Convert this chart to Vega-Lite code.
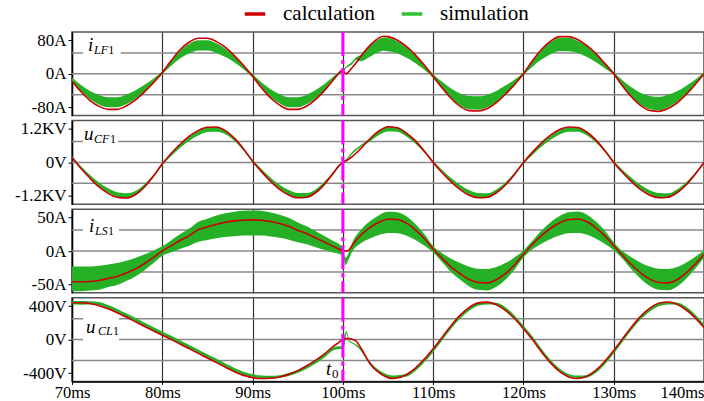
{
  "$schema": "https://vega.github.io/schema/vega-lite/v6.json",
  "padding": {"left": 13, "top": 2, "right": 0, "bottom": 0},
  "background": "white",
  "bounds": "flush",
  "spacing": 4.6,
  "config": {
    "font": "Liberation Serif, Times New Roman, serif",
    "view": {"stroke": "#555555", "strokeWidth": 1.5},
    "style": {"guide-label": {"font": "Liberation Serif, Times New Roman, serif", "fill": "black"}},
    "axis": {"labelFont": "Liberation Serif, Times New Roman, serif", "labelFontSize": 17, "labelColor": "black", "domainColor": "black", "domainWidth": 1.5, "tickColor": "black", "tickSize": 4, "labelPadding": 2, "gridColor": "#333333", "gridWidth": 1.2, "gridOpacity": 1, "title": null},
    "legend": {"labelFont": "Liberation Serif, Times New Roman, serif"},
    "text": {"font": "Liberation Serif, Times New Roman, serif", "color": "black"}
  },
  "datasets": {
    "one": [{"k": 1}],
    "lf": [
      {"t":70,"c":-18,"lo":-19,"hi":-9},{"t":71,"c":-43,"lo":-42,"hi":-27},{"t":72,"c":-64,"lo":-61,"hi":-41},{"t":73,"c":-78,"lo":-74,"hi":-51},{"t":74,"c":-85,"lo":-80,"hi":-56},{"t":75,"c":-85,"lo":-80,"hi":-56},{"t":76,"c":-77,"lo":-73,"hi":-50},{"t":77,"c":-63,"lo":-60,"hi":-40},{"t":78,"c":-44,"lo":-43,"hi":-27},{"t":79,"c":-22,"lo":-23,"hi":-12},
      {"t":80,"c":3,"lo":-1,"hi":6},{"t":81,"c":32,"lo":19,"hi":32},{"t":82,"c":58,"lo":37,"hi":56},{"t":83,"c":76,"lo":49,"hi":72},{"t":84,"c":85,"lo":56,"hi":80},{"t":85,"c":85,"lo":56,"hi":80},{"t":86,"c":77,"lo":50,"hi":73},{"t":87,"c":63,"lo":40,"hi":60},{"t":88,"c":43,"lo":27,"hi":42},{"t":89,"c":20,"lo":11,"hi":21},
      {"t":90,"c":-6,"lo":-9,"hi":-1},{"t":91,"c":-34,"lo":-34,"hi":-21},{"t":92,"c":-58,"lo":-56,"hi":-37},{"t":93,"c":-75,"lo":-71,"hi":-49},{"t":94,"c":-85,"lo":-80,"hi":-56},{"t":95,"c":-85,"lo":-80,"hi":-56},{"t":96,"c":-77,"lo":-73,"hi":-50},{"t":97,"c":-61,"lo":-59,"hi":-39},{"t":98,"c":-39,"lo":-39,"hi":-24},{"t":99,"c":-13,"lo":-15,"hi":-6},{"t":99.5,"c":0,"lo":-3,"hi":3},
      {"t":100,"c":10,"lo":4,"hi":9},{"t":100.3,"c":0,"lo":12,"hi":16},{"t":101,"c":14,"lo":22,"hi":28},{"t":101.5,"c":27,"lo":33,"hi":40},{"t":102,"c":42,"lo":30,"hi":45},{"t":103,"c":68,"lo":41,"hi":67},{"t":104,"c":86,"lo":52,"hi":83},{"t":104.5,"c":90,"lo":55,"hi":87},{"t":105,"c":89,"lo":54,"hi":86},{"t":106,"c":81,"lo":49,"hi":78},{"t":107,"c":66,"lo":39,"hi":65},{"t":108,"c":46,"lo":26,"hi":46},{"t":109,"c":21,"lo":10,"hi":23},
      {"t":110,"c":-6,"lo":-10,"hi":-1},{"t":111,"c":-34,"lo":-35,"hi":-19},{"t":112,"c":-59,"lo":-58,"hi":-35},{"t":113,"c":-78,"lo":-76,"hi":-47},{"t":114,"c":-88,"lo":-85,"hi":-53},{"t":115,"c":-89,"lo":-86,"hi":-54},{"t":116,"c":-83,"lo":-80,"hi":-50},{"t":117,"c":-69,"lo":-68,"hi":-41},{"t":118,"c":-49,"lo":-49,"hi":-28},{"t":119,"c":-26,"lo":-28,"hi":-14},
      {"t":120,"c":0,"lo":-3,"hi":4},{"t":121,"c":31,"lo":17,"hi":33},{"t":122,"c":58,"lo":34,"hi":57},{"t":123,"c":78,"lo":47,"hi":76},{"t":124,"c":89,"lo":54,"hi":86},{"t":125,"c":89,"lo":54,"hi":86},{"t":126,"c":82,"lo":50,"hi":79},{"t":127,"c":68,"lo":41,"hi":67},{"t":128,"c":49,"lo":28,"hi":49},{"t":129,"c":25,"lo":13,"hi":27},
      {"t":130,"c":0,"lo":-3,"hi":4},{"t":131,"c":-30,"lo":-32,"hi":-16},{"t":132,"c":-56,"lo":-56,"hi":-33},{"t":133,"c":-76,"lo":-74,"hi":-46},{"t":134,"c":-88,"lo":-85,"hi":-53},{"t":135,"c":-90,"lo":-87,"hi":-55},{"t":136,"c":-83,"lo":-80,"hi":-50},{"t":137,"c":-70,"lo":-68,"hi":-42},{"t":138,"c":-50,"lo":-50,"hi":-29},{"t":139,"c":-26,"lo":-28,"hi":-14},{"t":140,"c":0,"lo":-3,"hi":4}
    ],
    "cf": [
      {"t":70,"c":0.18,"lo":0.16,"hi":0.23},{"t":71,"c":-0.22,"lo":-0.21,"hi":-0.14},{"t":72,"c":-0.57,"lo":-0.55,"hi":-0.45},{"t":73,"c":-0.88,"lo":-0.85,"hi":-0.72},{"t":74,"c":-1.11,"lo":-1.08,"hi":-0.93},{"t":75,"c":-1.25,"lo":-1.23,"hi":-1.07},{"t":76,"c":-1.28,"lo":-1.27,"hi":-1.11},{"t":77,"c":-1.16,"lo":-1.19,"hi":-1.03},{"t":78,"c":-0.89,"lo":-0.92,"hi":-0.79},{"t":79,"c":-0.5,"lo":-0.55,"hi":-0.45},
      {"t":80,"c":-0.05,"lo":-0.11,"hi":-0.04},{"t":81,"c":0.33,"lo":0.23,"hi":0.32},{"t":82,"c":0.66,"lo":0.53,"hi":0.64},{"t":83,"c":0.94,"lo":0.78,"hi":0.91},{"t":84,"c":1.15,"lo":0.97,"hi":1.13},{"t":85,"c":1.26,"lo":1.09,"hi":1.25},{"t":86,"c":1.27,"lo":1.1,"hi":1.26},{"t":87,"c":1.13,"lo":1.01,"hi":1.16},{"t":88,"c":0.86,"lo":0.77,"hi":0.89},{"t":89,"c":0.48,"lo":0.43,"hi":0.53},
      {"t":90,"c":0.04,"lo":0.04,"hi":0.1},{"t":91,"c":-0.34,"lo":-0.33,"hi":-0.24},{"t":92,"c":-0.68,"lo":-0.66,"hi":-0.55},{"t":93,"c":-0.97,"lo":-0.94,"hi":-0.8},{"t":94,"c":-1.17,"lo":-1.15,"hi":-0.99},{"t":95,"c":-1.27,"lo":-1.26,"hi":-1.1},{"t":96,"c":-1.25,"lo":-1.26,"hi":-1.1},{"t":97,"c":-1.08,"lo":-1.11,"hi":-0.96},{"t":98,"c":-0.77,"lo":-0.81,"hi":-0.68},{"t":99,"c":-0.36,"lo":-0.41,"hi":-0.32},{"t":99.5,"c":-0.14,"lo":-0.2,"hi":-0.12},
      {"t":100,"c":0,"lo":-0.04,"hi":0.04},{"t":100.5,"c":0.08,"lo":0.08,"hi":0.16},{"t":101,"c":0.2,"lo":0.28,"hi":0.36},{"t":102,"c":0.5,"lo":0.55,"hi":0.62},{"t":103,"c":0.85,"lo":0.75,"hi":0.86},{"t":104,"c":1.13,"lo":0.98,"hi":1.13},{"t":105,"c":1.28,"lo":1.11,"hi":1.27},{"t":106,"c":1.24,"lo":1.1,"hi":1.26},{"t":107,"c":1.06,"lo":0.94,"hi":1.09},{"t":108,"c":0.78,"lo":0.69,"hi":0.82},{"t":109,"c":0.41,"lo":0.36,"hi":0.46},
      {"t":110,"c":0,"lo":0,"hi":0.06},{"t":111,"c":-0.37,"lo":-0.36,"hi":-0.27},{"t":112,"c":-0.7,"lo":-0.68,"hi":-0.56},{"t":113,"c":-0.98,"lo":-0.95,"hi":-0.81},{"t":114,"c":-1.18,"lo":-1.15,"hi":-1.0},{"t":115,"c":-1.27,"lo":-1.26,"hi":-1.1},{"t":116,"c":-1.25,"lo":-1.27,"hi":-1.11},{"t":117,"c":-1.09,"lo":-1.12,"hi":-0.97},{"t":118,"c":-0.81,"lo":-0.85,"hi":-0.72},{"t":119,"c":-0.43,"lo":-0.48,"hi":-0.38},
      {"t":120,"c":0,"lo":-0.06,"hi":0},{"t":121,"c":0.37,"lo":0.27,"hi":0.36},{"t":122,"c":0.7,"lo":0.56,"hi":0.68},{"t":123,"c":0.98,"lo":0.81,"hi":0.95},{"t":124,"c":1.18,"lo":1.0,"hi":1.15},{"t":125,"c":1.27,"lo":1.1,"hi":1.26},{"t":126,"c":1.25,"lo":1.1,"hi":1.26},{"t":127,"c":1.09,"lo":0.97,"hi":1.12},{"t":128,"c":0.81,"lo":0.72,"hi":0.85},{"t":129,"c":0.43,"lo":0.38,"hi":0.48},
      {"t":130,"c":0,"lo":0,"hi":0.06},{"t":131,"c":-0.37,"lo":-0.36,"hi":-0.27},{"t":132,"c":-0.7,"lo":-0.68,"hi":-0.56},{"t":133,"c":-0.98,"lo":-0.95,"hi":-0.81},{"t":134,"c":-1.18,"lo":-1.15,"hi":-1.0},{"t":135,"c":-1.27,"lo":-1.26,"hi":-1.1},{"t":136,"c":-1.25,"lo":-1.27,"hi":-1.11},{"t":137,"c":-1.09,"lo":-1.12,"hi":-0.97},{"t":138,"c":-0.81,"lo":-0.85,"hi":-0.72},{"t":139,"c":-0.43,"lo":-0.48,"hi":-0.38},{"t":140,"c":0,"lo":-0.06,"hi":0}
    ],
    "ls": [
      {"t":70,"c":-46,"lo":-60,"hi":-23},{"t":71,"c":-46,"lo":-60,"hi":-23},{"t":72,"c":-45.5,"lo":-59,"hi":-23},{"t":73,"c":-44,"lo":-58,"hi":-22},{"t":74,"c":-41,"lo":-54,"hi":-20},{"t":75,"c":-38,"lo":-51,"hi":-18},{"t":76,"c":-33,"lo":-45,"hi":-14.5},{"t":77,"c":-27,"lo":-38,"hi":-10.6},{"t":78,"c":-19,"lo":-29,"hi":-5.4},{"t":79,"c":-10,"lo":-18.5,"hi":0.5},
      {"t":80,"c":0,"lo":-7,"hi":7},{"t":81,"c":8,"lo":-1.8,"hi":16.2},{"t":82,"c":16,"lo":3.4,"hi":25.4},{"t":83,"c":23,"lo":8,"hi":33.5},{"t":84,"c":32,"lo":13.8,"hi":43.8},{"t":85,"c":36,"lo":16.4,"hi":48.4},{"t":86,"c":40,"lo":19,"hi":53},{"t":87,"c":43,"lo":21,"hi":56.5},{"t":88,"c":45,"lo":22,"hi":58.8},{"t":89,"c":46,"lo":23,"hi":60},
      {"t":90,"c":46.5,"lo":23,"hi":60.5},{"t":91,"c":46,"lo":23,"hi":60},{"t":92,"c":44,"lo":21.6,"hi":57.6},{"t":93,"c":41,"lo":19.7,"hi":54.2},{"t":94,"c":37,"lo":17,"hi":49.6},{"t":95,"c":31,"lo":13,"hi":42.7},{"t":96,"c":26,"lo":10,"hi":37},{"t":97,"c":19.5,"lo":5.7,"hi":29.4},{"t":98,"c":13,"lo":1.5,"hi":22},{"t":99,"c":6.5,"lo":-2.8,"hi":14.5},{"t":99.7,"c":2,"lo":-5,"hi":9},
      {"t":100,"c":0,"lo":-8,"hi":4},{"t":100.3,"c":0,"lo":-21,"hi":-10},{"t":100.6,"c":0.5,"lo":-14,"hi":-4},{"t":101,"c":8,"lo":-2,"hi":11},{"t":102,"c":24,"lo":11.6,"hi":31.6},{"t":103,"c":35,"lo":18.8,"hi":44.3},{"t":104,"c":43,"lo":24,"hi":53.5},{"t":105,"c":47.5,"lo":26.9,"hi":58.6},{"t":106,"c":47,"lo":26.6,"hi":58},{"t":107,"c":42,"lo":23.3,"hi":52.3},{"t":108,"c":32,"lo":16.8,"hi":40.8},{"t":109,"c":19,"lo":8.4,"hi":25.9},
      {"t":110,"c":3,"lo":-2,"hi":7.5},{"t":111,"c":-11,"lo":-16.7,"hi":-3.2},{"t":112,"c":-24,"lo":-31.6,"hi":-11.6},{"t":113,"c":-34,"lo":-43.1,"hi":-18.1},{"t":114,"c":-42.5,"lo":-52.9,"hi":-23.6},{"t":115,"c":-47,"lo":-58,"hi":-26.6},{"t":116,"c":-47.7,"lo":-58.9,"hi":-27},{"t":117,"c":-43,"lo":-53.5,"hi":-24},{"t":118,"c":-34,"lo":-43.1,"hi":-18.1},{"t":119,"c":-21,"lo":-28.2,"hi":-9.7},
      {"t":120,"c":-5,"lo":-9.8,"hi":0.8},{"t":121,"c":10,"lo":2.5,"hi":15.5},{"t":122,"c":23,"lo":11,"hi":30.5},{"t":123,"c":34,"lo":18.1,"hi":43.1},{"t":124,"c":42,"lo":23.3,"hi":52.3},{"t":125,"c":47,"lo":26.6,"hi":58},{"t":126,"c":47.8,"lo":27,"hi":59},{"t":127,"c":44,"lo":24.6,"hi":54.6},{"t":128,"c":35,"lo":18.8,"hi":44.3},{"t":129,"c":23,"lo":11,"hi":30.5},
      {"t":130,"c":8,"lo":1.2,"hi":13.2},{"t":131,"c":-7,"lo":-12,"hi":-0.5},{"t":132,"c":-21,"lo":-28.2,"hi":-9.7},{"t":133,"c":-33,"lo":-42,"hi":-17.5},{"t":134,"c":-42,"lo":-52.3,"hi":-23.3},{"t":135,"c":-47,"lo":-58,"hi":-26.6},{"t":136,"c":-47.6,"lo":-58.7,"hi":-27},{"t":137,"c":-43,"lo":-53.5,"hi":-24},{"t":138,"c":-33,"lo":-42,"hi":-17.5},{"t":139,"c":-20,"lo":-27,"hi":-9},{"t":140,"c":-5,"lo":-9.8,"hi":0.8}
    ],
    "cl": [
      {"t":70,"c":440,"lo":420,"hi":465},{"t":71,"c":440,"lo":418,"hi":462},{"t":72,"c":432,"lo":420,"hi":460},{"t":73,"c":405,"lo":410,"hi":450},{"t":74,"c":368,"lo":373,"hi":413},{"t":75,"c":322,"lo":327,"hi":367},{"t":76,"c":270,"lo":275,"hi":315},{"t":77,"c":215,"lo":220,"hi":260},{"t":78,"c":160,"lo":165,"hi":205},{"t":79,"c":105,"lo":110,"hi":150},
      {"t":80,"c":52,"lo":57,"hi":97},{"t":81,"c":0,"lo":5,"hi":45},{"t":82,"c":-55,"lo":-50,"hi":-10},{"t":83,"c":-110,"lo":-105,"hi":-65},{"t":84,"c":-165,"lo":-160,"hi":-120},{"t":85,"c":-220,"lo":-215,"hi":-175},{"t":86,"c":-275,"lo":-270,"hi":-230},{"t":87,"c":-330,"lo":-325,"hi":-285},{"t":88,"c":-385,"lo":-380,"hi":-340},{"t":89,"c":-428,"lo":-420,"hi":-385},
      {"t":90,"c":-455,"lo":-445,"hi":-415},{"t":91,"c":-465,"lo":-460,"hi":-430},{"t":92,"c":-463,"lo":-462,"hi":-432},{"t":93,"c":-447,"lo":-455,"hi":-425},{"t":94,"c":-416,"lo":-435,"hi":-400},{"t":95,"c":-371,"lo":-400,"hi":-365},{"t":96,"c":-313,"lo":-350,"hi":-315},{"t":97,"c":-245,"lo":-285,"hi":-250},{"t":98,"c":-168,"lo":-210,"hi":-175},{"t":99,"c":-75,"lo":-125,"hi":-90},{"t":99.5,"c":-38,"lo":-115,"hi":-80},{"t":99.9,"c":-5,"lo":-110,"hi":-80},
      {"t":100.2,"c":8,"lo":-60,"hi":60},{"t":100.4,"c":13,"lo":80,"hi":100},{"t":100.5,"c":15,"lo":40,"hi":80},{"t":100.7,"c":12,"lo":-30,"hi":-10},{"t":101,"c":5,"lo":-45,"hi":-30},{"t":101.3,"c":-8,"lo":-65,"hi":-50},{"t":101.5,"c":-20,"lo":-80,"hi":-60},{"t":102,"c":-100,"lo":-135,"hi":-110},{"t":103,"c":-285,"lo":-300,"hi":-265},{"t":104,"c":-395,"lo":-400,"hi":-365},{"t":105,"c":-455,"lo":-450,"hi":-420},{"t":105.5,"c":-465,"lo":-458,"hi":-428},
      {"t":106,"c":-460,"lo":-455,"hi":-425},{"t":107,"c":-420,"lo":-445,"hi":-410},{"t":108,"c":-343,"lo":-380,"hi":-345},{"t":109,"c":-236,"lo":-275,"hi":-240},{"t":110,"c":-109,"lo":-150,"hi":-112},{"t":111,"c":29,"lo":-10,"hi":28},{"t":112,"c":169,"lo":130,"hi":168},{"t":113,"c":292,"lo":252,"hi":290},{"t":114,"c":385,"lo":345,"hi":383},{"t":115,"c":439,"lo":405,"hi":437},
      {"t":116,"c":448,"lo":420,"hi":445},{"t":117,"c":417,"lo":415,"hi":440},{"t":118,"c":349,"lo":350,"hi":388},{"t":119,"c":252,"lo":255,"hi":292},{"t":120,"c":131,"lo":133,"hi":170},{"t":121,"c":0,"lo":2,"hi":40},{"t":122,"c":-147,"lo":-145,"hi":-108},{"t":123,"c":-278,"lo":-276,"hi":-240},{"t":124,"c":-381,"lo":-380,"hi":-345},{"t":125,"c":-446,"lo":-442,"hi":-410},
      {"t":126,"c":-465,"lo":-458,"hi":-430},{"t":127,"c":-438,"lo":-455,"hi":-425},{"t":128,"c":-367,"lo":-400,"hi":-365},{"t":129,"c":-261,"lo":-300,"hi":-262},{"t":130,"c":-130,"lo":-170,"hi":-132},{"t":131,"c":14,"lo":-25,"hi":12},{"t":132,"c":155,"lo":117,"hi":154},{"t":133,"c":281,"lo":242,"hi":279},{"t":134,"c":377,"lo":337,"hi":375},{"t":135,"c":435,"lo":400,"hi":432},
      {"t":136,"c":449,"lo":420,"hi":446},{"t":137,"c":422,"lo":418,"hi":445},{"t":138,"c":357,"lo":358,"hi":395},{"t":139,"c":263,"lo":265,"hi":302},{"t":140,"c":144,"lo":146,"hi":183}
    ]
  },
  "vconcat": [
    {
      "width": 632, "height": 83.6,
      "data": {"name": "lf"},
      "layer": [
        {"data": {"values": [{"g": -50}, {"g": 0}, {"g": 50}]}, "mark": {"type": "rule", "color": "#888888", "strokeWidth": 1.5},
         "encoding": {"y": {"field": "g", "type": "quantitative", "scale": {"domain": [-100, 100], "nice": false, "zero": false},
           "axis": {"values": [-80, 0, 80], "labelExpr": "datum.value + 'A'", "grid": false, "title": null}}}},
        {"data": {"name": "one"}, "mark": {"type": "rect", "color": "white"}, "encoding": {"x": {"datum": 71.22, "type": "quantitative"}, "x2": {"datum": 75.4}, "y": {"datum": 28, "type": "quantitative"}, "y2": {"datum": 74}}},
        {"data": {"name": "one"}, "mark": {"type": "text", "fontStyle": "italic", "fontSize": 19, "align": "left", "baseline": "alphabetic"}, "encoding": {"text": {"value": "i"}, "x": {"datum": 71.77, "type": "quantitative"}, "y": {"datum": 54.8, "type": "quantitative"}}},
        {"data": {"name": "one"}, "mark": {"type": "text", "fontStyle": "italic", "fontSize": 12, "align": "left", "baseline": "alphabetic"}, "encoding": {"text": {"value": "LF"}, "x": {"datum": 72.44, "type": "quantitative"}, "y": {"datum": 47.6, "type": "quantitative"}}},
        {"data": {"name": "one"}, "mark": {"type": "text", "fontSize": 12, "align": "left", "baseline": "alphabetic"}, "encoding": {"text": {"value": "1"}, "x": {"datum": 74.02, "type": "quantitative"}, "y": {"datum": 47.6, "type": "quantitative"}}},
        {"mark": {"type": "area", "interpolate": "monotone", "clip": true, "color": "#26b026"},
         "encoding": {"x": {"field": "t", "type": "quantitative", "scale": {"domain": [70, 140], "nice": false, "zero": false},
           "axis": {"values": [70, 80, 90, 100, 110, 120, 130, 140], "labels": false, "ticks": false, "domain": false, "grid": true, "title": null}},
           "y": {"field": "lo", "type": "quantitative"}, "y2": {"field": "hi"}}},
        {"mark": {"type": "line", "interpolate": "monotone", "clip": true, "strokeWidth": 1.6},
         "encoding": {"x": {"field": "t", "type": "quantitative"}, "y": {"field": "c", "type": "quantitative"},
           "color": {"datum": "calculation", "type": "nominal", "scale": {"domain": ["calculation", "simulation"], "range": ["#cc0000", "#2ec42e"]},
             "legend": {"orient": "none", "legendX": 171, "legendY": -30, "direction": "horizontal", "title": null, "symbolType": "stroke", "symbolSize": 420, "symbolStrokeWidth": 3.5, "labelFontSize": 21, "labelColor": "black", "labelOffset": 16, "columnPadding": 18, "padding": 0}}}},
        {"data": {"name": "one"}, "mark": {"type": "rule", "color": "#ff00ff", "strokeWidth": 3, "strokeDash": [24, 4, 4, 4]}, "encoding": {"x": {"datum": 100, "type": "quantitative"}}}
      ]
    },
    {
      "width": 632, "height": 83.6,
      "data": {"name": "cf"},
      "layer": [
        {"data": {"values": [{"g": -0.75}, {"g": 0}, {"g": 0.75}]}, "mark": {"type": "rule", "color": "#888888", "strokeWidth": 1.5},
         "encoding": {"y": {"field": "g", "type": "quantitative", "scale": {"domain": [-1.5, 1.5], "nice": false, "zero": false},
           "axis": {"values": [-1.2, 0, 1.2], "labelExpr": "datum.value > 0 ? '1.2KV' : (datum.value < 0 ? '-1.2KV' : '0V')", "grid": false, "title": null}}}},
        {"data": {"name": "one"}, "mark": {"type": "rect", "color": "white"}, "encoding": {"x": {"datum": 71.22, "type": "quantitative"}, "x2": {"datum": 75.1}, "y": {"datum": 0.48, "type": "quantitative"}, "y2": {"datum": 1.09}}},
        {"data": {"name": "one"}, "mark": {"type": "text", "fontStyle": "italic", "fontSize": 19, "align": "left", "baseline": "alphabetic"}, "encoding": {"text": {"value": "u"}, "x": {"datum": 71.33, "type": "quantitative"}, "y": {"datum": 0.82, "type": "quantitative"}}},
        {"data": {"name": "one"}, "mark": {"type": "text", "fontStyle": "italic", "fontSize": 12, "align": "left", "baseline": "alphabetic"}, "encoding": {"text": {"value": "CF"}, "x": {"datum": 72.44, "type": "quantitative"}, "y": {"datum": 0.71, "type": "quantitative"}}},
        {"data": {"name": "one"}, "mark": {"type": "text", "fontSize": 12, "align": "left", "baseline": "alphabetic"}, "encoding": {"text": {"value": "1"}, "x": {"datum": 74.2, "type": "quantitative"}, "y": {"datum": 0.71, "type": "quantitative"}}},
        {"mark": {"type": "area", "interpolate": "monotone", "clip": true, "color": "#26b026"},
         "encoding": {"x": {"field": "t", "type": "quantitative", "scale": {"domain": [70, 140], "nice": false, "zero": false},
           "axis": {"values": [70, 80, 90, 100, 110, 120, 130, 140], "labels": false, "ticks": false, "domain": false, "grid": true, "title": null}},
           "y": {"field": "lo", "type": "quantitative"}, "y2": {"field": "hi"}}},
        {"mark": {"type": "line", "interpolate": "monotone", "clip": true, "strokeWidth": 1.6, "color": "#cc0000"},
         "encoding": {"x": {"field": "t", "type": "quantitative"}, "y": {"field": "c", "type": "quantitative"}}},
        {"data": {"name": "one"}, "mark": {"type": "rule", "color": "#ff00ff", "strokeWidth": 3, "strokeDash": [24, 4, 4, 4]}, "encoding": {"x": {"datum": 100, "type": "quantitative"}}}
      ]
    },
    {
      "width": 632, "height": 83.6,
      "data": {"name": "ls"},
      "layer": [
        {"data": {"values": [{"g": -31.25}, {"g": 0}, {"g": 31.25}]}, "mark": {"type": "rule", "color": "#888888", "strokeWidth": 1.5},
         "encoding": {"y": {"field": "g", "type": "quantitative", "scale": {"domain": [-62.5, 62.5], "nice": false, "zero": false},
           "axis": {"values": [-50, 0, 50], "labelExpr": "datum.value + 'A'", "grid": false, "title": null}}}},
        {"data": {"name": "one"}, "mark": {"type": "rect", "color": "white"}, "encoding": {"x": {"datum": 71.22, "type": "quantitative"}, "x2": {"datum": 75.2}, "y": {"datum": 15.6, "type": "quantitative"}, "y2": {"datum": 45.4}}},
        {"data": {"name": "one"}, "mark": {"type": "text", "fontStyle": "italic", "fontSize": 19, "align": "left", "baseline": "alphabetic"}, "encoding": {"text": {"value": "i"}, "x": {"datum": 71.88, "type": "quantitative"}, "y": {"datum": 28.3, "type": "quantitative"}}},
        {"data": {"name": "one"}, "mark": {"type": "text", "fontStyle": "italic", "fontSize": 12, "align": "left", "baseline": "alphabetic"}, "encoding": {"text": {"value": "LS"}, "x": {"datum": 72.55, "type": "quantitative"}, "y": {"datum": 24.6, "type": "quantitative"}}},
        {"data": {"name": "one"}, "mark": {"type": "text", "fontSize": 12, "align": "left", "baseline": "alphabetic"}, "encoding": {"text": {"value": "1"}, "x": {"datum": 74.0, "type": "quantitative"}, "y": {"datum": 24.6, "type": "quantitative"}}},
        {"mark": {"type": "area", "interpolate": "monotone", "clip": true, "color": "#26b026"},
         "encoding": {"x": {"field": "t", "type": "quantitative", "scale": {"domain": [70, 140], "nice": false, "zero": false},
           "axis": {"values": [70, 80, 90, 100, 110, 120, 130, 140], "labels": false, "ticks": false, "domain": false, "grid": true, "title": null}},
           "y": {"field": "lo", "type": "quantitative"}, "y2": {"field": "hi"}}},
        {"mark": {"type": "line", "interpolate": "monotone", "clip": true, "strokeWidth": 1.6, "color": "#cc0000"},
         "encoding": {"x": {"field": "t", "type": "quantitative"}, "y": {"field": "c", "type": "quantitative"}}},
        {"data": {"name": "one"}, "mark": {"type": "rule", "color": "#ff00ff", "strokeWidth": 3, "strokeDash": [24, 4, 4, 4]}, "encoding": {"x": {"datum": 100, "type": "quantitative"}}}
      ]
    },
    {
      "width": 632, "height": 83.6,
      "data": {"name": "cl"},
      "layer": [
        {"data": {"values": [{"g": -250}, {"g": 0}, {"g": 250}]}, "mark": {"type": "rule", "color": "#888888", "strokeWidth": 1.5},
         "encoding": {"y": {"field": "g", "type": "quantitative", "scale": {"domain": [-500, 500], "nice": false, "zero": false},
           "axis": {"values": [-400, 0, 400], "labelExpr": "datum.value + 'V'", "grid": false, "title": null}}}},
        {"data": {"name": "one"}, "mark": {"type": "rect", "color": "white"}, "encoding": {"x": {"datum": 71.22, "type": "quantitative"}, "x2": {"datum": 75.2}, "y": {"datum": -42, "type": "quantitative"}, "y2": {"datum": 268}}},
        {"data": {"name": "one"}, "mark": {"type": "text", "fontStyle": "italic", "fontSize": 19, "align": "left", "baseline": "alphabetic"}, "encoding": {"text": {"value": "u"}, "x": {"datum": 71.55, "type": "quantitative"}, "y": {"datum": 83, "type": "quantitative"}}},
        {"data": {"name": "one"}, "mark": {"type": "text", "fontStyle": "italic", "fontSize": 12, "align": "left", "baseline": "alphabetic"}, "encoding": {"text": {"value": "CL"}, "x": {"datum": 72.88, "type": "quantitative"}, "y": {"datum": 54, "type": "quantitative"}}},
        {"data": {"name": "one"}, "mark": {"type": "text", "fontSize": 12, "align": "left", "baseline": "alphabetic"}, "encoding": {"text": {"value": "1"}, "x": {"datum": 74.55, "type": "quantitative"}, "y": {"datum": 54, "type": "quantitative"}}},
        {"data": {"name": "one"}, "mark": {"type": "text", "fontStyle": "italic", "fontSize": 19, "align": "left", "baseline": "alphabetic"}, "encoding": {"text": {"value": "t"}, "x": {"datum": 98.13, "type": "quantitative"}, "y": {"datum": -423, "type": "quantitative"}}},
        {"data": {"name": "one"}, "mark": {"type": "text", "fontSize": 13, "align": "left", "baseline": "alphabetic"}, "encoding": {"text": {"value": "0"}, "x": {"datum": 98.8, "type": "quantitative"}, "y": {"datum": -458, "type": "quantitative"}}},
        {"mark": {"type": "area", "interpolate": "monotone", "clip": true, "color": "#26b026"},
         "encoding": {"x": {"field": "t", "type": "quantitative", "scale": {"domain": [70, 140], "nice": false, "zero": false},
           "axis": {"values": [70, 80, 90, 100, 110, 120, 130, 140], "labelExpr": "datum.value + 'ms'", "grid": true, "title": null, "labelPadding": 0, "tickSize": 3, "labelFontSize": 16.5, "labelAlign": {"condition": {"test": "datum.value == 140", "value": "right"}, "value": "center"}}},
           "y": {"field": "lo", "type": "quantitative"}, "y2": {"field": "hi"}}},
        {"mark": {"type": "line", "interpolate": "monotone", "clip": true, "strokeWidth": 1.6, "color": "#cc0000"},
         "encoding": {"x": {"field": "t", "type": "quantitative"}, "y": {"field": "c", "type": "quantitative"}}},
        {"data": {"name": "one"}, "mark": {"type": "rule", "color": "#ff00ff", "strokeWidth": 3, "strokeDash": [24, 4, 4, 4]}, "encoding": {"x": {"datum": 100, "type": "quantitative"}}}
      ]
    }
  ]
}
